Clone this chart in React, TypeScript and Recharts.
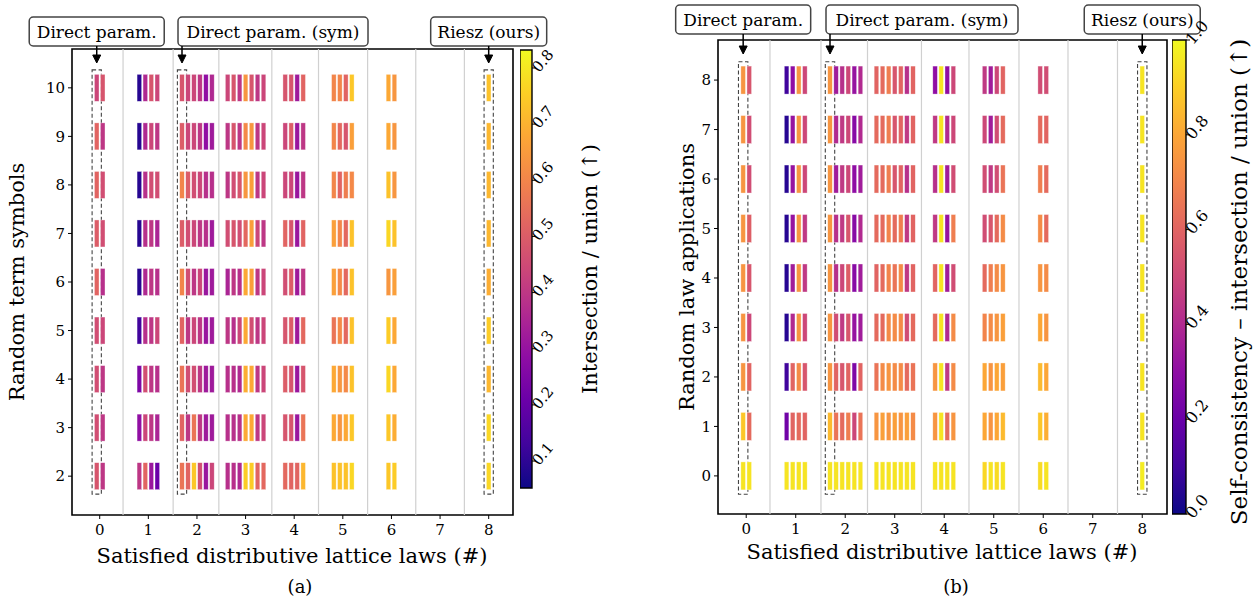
import React from "react";
import {
  ComposedChart,
  ReferenceArea,
  ReferenceDot,
  ReferenceLine,
  Scatter,
  ScatterChart,
  XAxis,
  YAxis,
} from "recharts";

const FONT = "DejaVu Serif";

// x categories and how many methods land in each
const lawsSatisfied = [0, 1, 2, 3, 4, 5, 6, 7, 8];
const methodsPerLaw = [2, 4, 6, 7, 4, 4, 2, 0, 1];

// panel (a): rows = random term symbols
const termSymbolRows = [10, 9, 8, 7, 6, 5, 4, 3, 2];
const iouSym10 = [.44, .48, .09, .36, .48, .44, .48, .44, .44, .40, .29, .36, .44, .48, .40, .64, .48, .40, .44, .48, .48, .32, .52, .60, .60, .52, .74, .68, .64, .73];
const iouSym9 = [.52, .40, .09, .36, .44, .40, .50, .44, .44, .40, .29, .32, .40, .48, .40, .61, .64, .40, .44, .44, .50, .31, .40, .60, .53, .48, .66, .68, .64, .71];
const iouSym8 = [.52, .46, .09, .38, .46, .46, .60, .50, .46, .44, .38, .38, .40, .46, .48, .64, .66, .40, .44, .44, .44, .31, .40, .60, .52, .58, .61, .73, .64, .71];
const iouSym7 = [.50, .46, .09, .38, .40, .35, .50, .46, .44, .40, .38, .32, .46, .48, .46, .53, .66, .44, .40, .52, .48, .31, .52, .66, .60, .53, .73, .77, .73, .71];
const iouSym6 = [.52, .38, .09, .36, .40, .38, .60, .46, .40, .44, .31, .32, .35, .40, .38, .68, .66, .40, .44, .46, .50, .32, .40, .66, .61, .53, .73, .64, .66, .69];
const iouSym5 = [.46, .44, .13, .38, .40, .44, .52, .40, .44, .40, .31, .32, .40, .38, .44, .68, .46, .40, .44, .48, .50, .32, .53, .56, .61, .53, .73, .75, .68, .75];
const iouSym4 = [.46, .40, .25, .46, .40, .38, .56, .46, .46, .40, .32, .32, .38, .38, .36, .69, .68, .40, .44, .50, .48, .31, .48, .68, .64, .61, .73, .77, .68, .71];
const iouSym3 = [.46, .40, .29, .44, .40, .35, .52, .40, .56, .40, .32, .32, .38, .38, .38, .68, .68, .40, .44, .48, .48, .31, .56, .68, .64, .68, .74, .74, .69, .77];
const iouSym2 = [.48, .40, .40, .52, .31, .21, .56, .52, .74, .46, .31, .44, .38, .38, .36, .75, .75, .52, .53, .53, .52, .52, .71, .73, .73, .73, .77, .74, .75, .77];

// panel (b): rows = random law applications
const lawApplicationRows = [8, 7, 6, 5, 4, 3, 2, 1, 0];
const selfCons8 = [.75, .55, .10, .30, .75, .50, .75, .35, .42, .50, .32, .40, .60, .62, .68, .55, .60, .42, .60, .30, .95, .30, .50, .45, .35, .50, .60, .52, .52, .95];
const selfCons7 = [.75, .52, .05, .32, .75, .50, .75, .40, .45, .50, .28, .40, .62, .62, .68, .55, .60, .45, .60, .45, .95, .40, .50, .50, .35, .52, .62, .62, .60, .95];
const selfCons6 = [.75, .52, .05, .32, .75, .50, .75, .35, .45, .50, .30, .35, .62, .62, .68, .55, .60, .42, .60, .42, .95, .35, .52, .52, .45, .52, .65, .68, .62, .95];
const selfCons5 = [.75, .58, .05, .32, .75, .45, .75, .42, .45, .55, .28, .40, .62, .62, .70, .62, .68, .45, .60, .45, .95, .32, .68, .52, .55, .62, .72, .72, .62, .95];
const selfCons4 = [.75, .55, .05, .35, .75, .45, .75, .42, .50, .58, .28, .35, .60, .62, .70, .65, .72, .45, .60, .60, .95, .35, .52, .62, .68, .72, .75, .75, .72, .95];
const selfCons3 = [.75, .50, .05, .40, .75, .50, .75, .52, .45, .55, .32, .35, .62, .62, .72, .72, .72, .52, .62, .62, .95, .40, .72, .70, .72, .75, .78, .80, .75, .95];
const selfCons2 = [.75, .60, .10, .60, .72, .55, .75, .60, .55, .60, .25, .60, .65, .72, .75, .72, .72, .62, .65, .75, .95, .45, .72, .80, .75, .80, .78, .85, .80, .95];
const selfCons1 = [.88, .62, .22, .60, .62, .60, .85, .65, .62, .68, .50, .65, .75, .78, .75, .78, .75, .78, .72, .75, .95, .62, .75, .80, .75, .80, .85, .88, .82, .95];
const selfCons0 = [.95, .95, .95, .95, .95, .95, .95, .95, .95, .95, .95, .95, .95, .95, .95, .95, .95, .95, .95, .95, .95, .95, .95, .92, .95, .93, .95, .93, .95, .97];

const cbarTicksA = [0.1, 0.2, 0.3, 0.4, 0.5, 0.6, 0.7, 0.8];
const cbarTicksB = [0, 0.2, 0.4, 0.6, 0.8, 1.0];

// highlighted methods: [law group, index inside group, label]
const highlights: [number, number, string][] = [
  [0, 0, "Direct param."],
  [2, 0, "Direct param. (sym)"],
  [8, 0, "Riesz (ours)"],
];

const PLASMA = ["#0d0887", "#41049d", "#6a00a8", "#8f0da4", "#b12a90", "#cc4778", "#e16462", "#f2844b", "#fca636", "#fcce25", "#f0f921"];

function hexRgb(h: string) {
  return [1, 3, 5].map((i) => parseInt(h.slice(i, i + 2), 16));
}

function plasma(t: number) {
  const c = Math.min(1, Math.max(0, t)) * 10;
  const i = Math.min(9, Math.floor(c));
  const f = c - i;
  const a = hexRgb(PLASMA[i]);
  const b = hexRgb(PLASMA[i + 1]);
  const m = a.map((x, k) => Math.round(x + (b[k] - x) * f));
  return `rgb(${m[0]},${m[1]},${m[2]})`;
}

const SPREAD = 0.123;

function methodX(group: number, j: number) {
  const n = methodsPerLaw[group];
  return lawsSatisfied[group] + (j - (n - 1) / 2) * SPREAD;
}

function buildPoints(rows: number[], values: number[][]) {
  const pts: { x: number; y: number; v: number }[] = [];
  rows.forEach((row, r) => {
    let k = 0;
    lawsSatisfied.forEach((_, g) => {
      for (let j = 0; j < methodsPerLaw[g]; j++) {
        pts.push({ x: methodX(g, j), y: row, v: values[r][k] });
        k++;
      }
    });
  });
  return pts;
}

const X_DOMAIN: [number, number] = [-0.57, 8.5];
const SEPARATORS = [0.48, 1.51, 2.45, 3.54, 4.5, 5.51, 6.5, 7.5];

type PanelProps = {
  left: number;
  width: number;
  height: number;
  margin: { top: number; right: number; bottom: number; left: number };
  rows: number[];
  values: number[][];
  yDomain: [number, number];
  vmin: number;
  vmax: number;
  barH: number;
  boxOffsets: number[];
  boxWidths: number[];
  boxTop: number;
};

function Panel(p: PanelProps) {
  const pts = buildPoints(p.rows, p.values);
  const yLo = Math.min(...p.rows);
  const yHi = Math.max(...p.rows);
  const axisTick = { fill: "#000", fontSize: 15, fontFamily: FONT };
  return (
    <div style={{ position: "absolute", left: p.left, top: 0 }}>
      <ScatterChart width={p.width} height={p.height} margin={p.margin}>
        <XAxis
          type="number"
          dataKey="x"
          domain={X_DOMAIN}
          ticks={lawsSatisfied}
          allowDataOverflow
          height={30}
          tick={axisTick}
          tickLine={{ stroke: "#000" }}
          tickSize={4}
          tickMargin={5}
          axisLine={false}
        />
        <YAxis
          type="number"
          dataKey="y"
          domain={p.yDomain}
          ticks={p.rows}
          allowDataOverflow
          width={40}
          tick={axisTick}
          tickLine={{ stroke: "#000" }}
          tickSize={4}
          tickMargin={3}
          axisLine={false}
        />
        {SEPARATORS.map((s) => (
          <ReferenceLine key={s} x={s} stroke="#d0d0d0" strokeWidth={1.2} />
        ))}
        <Scatter
          data={pts}
          isAnimationActive={false}
          shape={(props: any) => (
            <rect
              x={props.cx - 2.3}
              y={props.cy - p.barH / 2}
              width={4.6}
              height={p.barH}
              fill={plasma((props.payload.v - p.vmin) / (p.vmax - p.vmin))}
              stroke="#fff"
              strokeOpacity={0.6}
              strokeWidth={0.6}
            />
          )}
        />
        {highlights.map(([g, j]) => (
          <ReferenceArea
            key={`box-${g}`}
            x1={methodX(g, j) - 0.095}
            x2={methodX(g, j) + 0.095}
            y1={yLo - 0.37}
            y2={yHi + 0.37}
            fill="none"
            fillOpacity={0}
            stroke="#444"
            strokeWidth={1.1}
            strokeDasharray="4 2.5"
            ifOverflow="visible"
          />
        ))}
        <ReferenceArea
          x1={X_DOMAIN[0]}
          x2={X_DOMAIN[1]}
          y1={p.yDomain[0]}
          y2={p.yDomain[1]}
          fill="none"
          fillOpacity={0}
          stroke="#000"
          strokeWidth={1.6}
          ifOverflow="visible"
        />
        {highlights.map(([g, j, label], i) => (
          <ReferenceDot
            key={`ann-${g}`}
            x={methodX(g, j)}
            y={p.yDomain[1]}
            ifOverflow="visible"
            shape={(props: any) => {
              const cx = props.cx;
              const cy = props.cy;
              const w = p.boxWidths[i];
              const bx = cx + p.boxOffsets[i] - w / 2;
              const by = cy + p.boxTop;
              const bh = 29;
              return (
                <g>
                  <rect x={bx} y={by} width={w} height={bh} rx={4} fill="#fff" stroke="#444" strokeWidth={1.5} />
                  <text x={bx + w / 2} y={by + bh / 2 + 6} textAnchor="middle" fontFamily={FONT} fontSize={17} fill="#000">
                    {label}
                  </text>
                  <line x1={cx} y1={by + bh} x2={cx} y2={cy + 7} stroke="#000" strokeWidth={1.5} />
                  <path d={`M${cx - 4},${cy + 6} L${cx},${cy + 14} L${cx + 4},${cy + 6} Z`} fill="#000" stroke="#000" strokeWidth={1} />
                </g>
              );
            }}
          />
        ))}
      </ScatterChart>
    </div>
  );
}

function makeRotTick(fontSize: number) {
  return function RotTick(props: any) {
    const { x, y, payload } = props;
    const tx = x + 1;
    const ty = y + fontSize * 0.35;
    return (
      <text x={tx} y={ty} transform={`rotate(-50 ${tx} ${ty})`} fontFamily={FONT} fontSize={fontSize} fill="#000">
        {payload.value.toFixed(1)}
      </text>
    );
  };
}

const CB_PAD = 30;

function Colorbar(props: { id: string; left: number; top: number; h: number; w: number; vmin: number; vmax: number; ticks: number[]; fontSize: number }) {
  const { id, left, top, h, w, vmin, vmax, ticks, fontSize } = props;
  const stops = PLASMA.map((c, i) => <stop key={i} offset={`${i * 10}%`} stopColor={c} />);
  const Tick = makeRotTick(fontSize);
  return (
    <div style={{ position: "absolute", left, top: top - CB_PAD }}>
      <ComposedChart
        width={w + 50}
        height={h + 2 * CB_PAD}
        margin={{ top: CB_PAD, right: 0, bottom: CB_PAD, left: 0 }}
        data={[{ x: 0, y: vmin }, { x: 1, y: vmax }]}
      >
        <defs>
          <linearGradient id={id} x1="0" y1="1" x2="0" y2="0">
            {stops}
          </linearGradient>
        </defs>
        <XAxis type="number" dataKey="x" domain={[0, 1]} hide height={0} />
        <YAxis
          type="number"
          dataKey="y"
          orientation="right"
          domain={[vmin, vmax]}
          ticks={ticks}
          allowDataOverflow
          width={50}
          axisLine={false}
          tickLine={{ stroke: "#000" }}
          tickSize={4}
          tick={<Tick />}
        />
        <ReferenceArea x1={0} x2={1} y1={vmin} y2={vmax} fill={`url(#${id})`} fillOpacity={1} stroke="#000" strokeWidth={1.4} ifOverflow="visible" />
      </ComposedChart>
    </div>
  );
}

export default function App() {
  const textStyle = { fontFamily: FONT, fill: "#000" };
  return (
    <div style={{ position: "absolute", left: 0, top: 0, width: 1254, height: 597, background: "#fff", overflow: "hidden" }}>
      <Panel
        left={0}
        width={620}
        height={597}
        margin={{ top: 49, right: 107, bottom: 52, left: 32 }}
        rows={termSymbolRows}
        values={[iouSym10, iouSym9, iouSym8, iouSym7, iouSym6, iouSym5, iouSym4, iouSym3, iouSym2]}
        yDomain={[1.2, 10.8]}
        vmin={0.052}
        vmax={0.832}
        barH={27}
        boxOffsets={[0, 91, 0]}
        boxWidths={[135, 190, 116]}
        boxTop={-32}
      />
      <Colorbar id="cbA" left={520} top={50} h={438} w={12} vmin={0.052} vmax={0.832} ticks={cbarTicksA} fontSize={15} />
      <Panel
        left={630}
        width={624}
        height={597}
        margin={{ top: 40, right: 87, bottom: 53, left: 48 }}
        rows={lawApplicationRows}
        values={[selfCons8, selfCons7, selfCons6, selfCons5, selfCons4, selfCons3, selfCons2, selfCons1, selfCons0]}
        yDomain={[-0.77, 8.81]}
        vmin={0}
        vmax={1}
        barH={28}
        boxOffsets={[0, 92, 0]}
        boxWidths={[135, 192, 116]}
        boxTop={-35}
      />
      <Colorbar id="cbB" left={1172} top={40} h={474} w={14} vmin={0} vmax={1} ticks={cbarTicksB} fontSize={16} />
      <svg width={1254} height={597} style={{ position: "absolute", left: 0, top: 0, pointerEvents: "none" }}>
        <text {...textStyle} fontSize={21} textAnchor="middle" transform="translate(24 282) rotate(-90)">Random term symbols</text>
        <text {...textStyle} fontSize={21} textAnchor="middle" x={292} y={563}>Satisfied distributive lattice laws (#)</text>
        <text {...textStyle} fontSize={18} textAnchor="middle" x={300} y={593}>(a)</text>
        <text {...textStyle} fontSize={21} textAnchor="middle" transform="translate(597 269) rotate(-90)">Intersection / union (↑)</text>
        <text {...textStyle} fontSize={21} textAnchor="middle" transform="translate(694 277) rotate(-90)">Random law applications</text>
        <text {...textStyle} fontSize={21} textAnchor="middle" x={942} y={559}>Satisfied distributive lattice laws (#)</text>
        <text {...textStyle} fontSize={18} textAnchor="middle" x={956} y={593}>(b)</text>
        <text {...textStyle} fontSize={23} textAnchor="middle" transform="translate(1247 282) rotate(-90)">Self-consistency – intersection / union (↑)</text>
      </svg>
    </div>
  );
}
